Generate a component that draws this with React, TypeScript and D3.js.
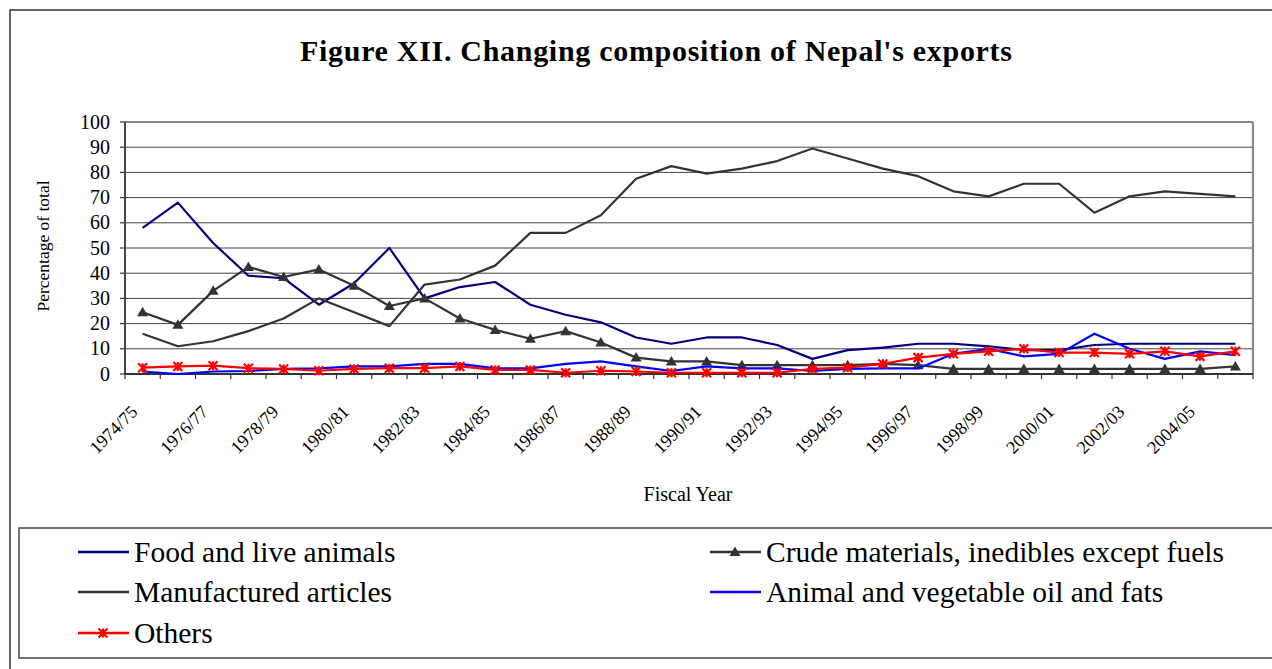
import * as d3 from 'd3'

const years = ['1974/75', '1975/76', '1976/77', '1977/78', '1978/79', '1979/80', '1980/81', '1981/82',
  '1982/83', '1983/84', '1984/85', '1985/86', '1986/87', '1987/88', '1988/89', '1989/90',
  '1990/91', '1991/92', '1992/93', '1993/94', '1994/95', '1995/96', '1996/97', '1997/98',
  '1998/99', '1999/00', '2000/01', '2001/02', '2002/03', '2003/04', '2004/05', '2005/06']

const food = [58, 68, 52, 39, 38, 27.5, 36, 50, 30, 34.5, 36.5, 27.5, 23.5, 20.5, 14.5, 12,
  14.5, 14.5, 11.5, 6, 9.5, 10.5, 12, 12, 11, 9.5, 9.5, 11.5, 12, 12, 12, 12]
const crude = [24.5, 19.5, 33, 42.5, 38.5, 41.5, 35, 27, 30, 22, 17.5, 14, 17, 12.5, 6.5, 5,
  5, 3.5, 3.5, 3.5, 3.5, 4, 3.5, 2, 2, 2, 2, 2, 2, 2, 2, 3]
const manufactured = [16, 11, 13, 17, 22, 30, 24.5, 19, 35.5, 37.5, 43, 56, 56, 63, 77.5, 82.5,
  79.5, 81.5, 84.5, 89.5, 85.5, 81.5, 78.5, 72.5, 70.5, 75.5, 75.5, 64, 70.5, 72.5, 71.5, 70.5]
const oils = [1, 0, 1, 1.2, 2, 2.2, 3, 3, 4, 4, 2.2, 2.2, 4, 5, 3, 1.2,
  3, 2.2, 2.2, 1.2, 2, 2.2, 2.2, 8, 10, 7, 8, 16, 10, 6, 9, 7.5]
const others = [2.5, 3, 3.3, 2.3, 2, 1.3, 2, 2.3, 2.3, 3, 1.6, 1.6, 0.5, 1.3, 1, 0.5,
  0.5, 0.5, 0.5, 2, 2.5, 4, 6.5, 8, 9, 10, 8.5, 8.5, 8, 9, 7, 9]

const yTicks = [0, 10, 20, 30, 40, 50, 60, 70, 80, 90, 100]

const series = [
  { name: 'Food and live animals', values: food, color: '#000080', marker: 'none' },
  { name: 'Manufactured articles', values: manufactured, color: '#333333', marker: 'none' },
  { name: 'Crude materials, inedibles except fuels', values: crude, color: '#333333', marker: 'triangle' },
  { name: 'Animal and vegetable oil and fats', values: oils, color: '#0000ff', marker: 'none' },
  { name: 'Others', values: others, color: '#ff0000', marker: 'star' },
]

// legend reads row by row: food | crude, manufactured | oils, others
const legendOrder = [0, 2, 1, 3, 4]

const serif = '"Liberation Serif", "Times New Roman", serif'

function Marker({ type, x, y, color }) {
  if (type === 'triangle') {
    return <path d={`M${x},${y - 5.5}L${x + 5.5},${y + 4}L${x - 5.5},${y + 4}Z`} fill={color} />
  }
  if (type === 'star') {
    const s = 4.5
    return (
      <path d={`M${x - s},${y - s}L${x + s},${y + s}M${x - s},${y + s}L${x + s},${y - s}M${x},${y - s}L${x},${y + s}`}
        stroke={color} strokeWidth={2.2} fill="none" />
    )
  }
  return null
}

export default function App() {
  const left = 125, right = 1253, top = 122, bottom = 374

  const x = d3.scalePoint().domain(years).range([left, right]).padding(0.5)
  const band = d3.scaleBand().domain(years).range([left, right])
  const y = d3.scaleLinear().domain([0, 100]).range([bottom, top])

  const line = d3.line<number>().x((_, i) => x(years[i])!).y(d => y(d))

  return (
    <svg width={1272} height={669} style={{ position: 'absolute', left: 0, top: 0, background: '#fff' }}
      fontFamily={serif}>
      <rect x={10} y={10} width={1300} height={700} fill="none" stroke="#333" strokeWidth={1.5} />

      <text x={656} y={61} textAnchor="middle" fontSize={30} fontWeight="bold" textLength={712}
        lengthAdjust="spacing">Figure XII. Changing composition of Nepal's exports</text>

      {yTicks.map(t => (
        <g key={t}>
          {t > 0 && t < 100 && <line x1={left} x2={right} y1={y(t)} y2={y(t)} stroke="#444" strokeWidth={1} />}
          <line x1={left - 5} x2={left} y1={y(t)} y2={y(t)} stroke="#333" strokeWidth={1.2} />
          <text x={110} y={y(t) + 6.5} textAnchor="end" fontSize={20}>{t}</text>
        </g>
      ))}

      <line x1={left} x2={right} y1={top} y2={top} stroke="#888" strokeWidth={2.2} />
      <line x1={right} x2={right} y1={top} y2={bottom} stroke="#888" strokeWidth={2.2} />
      <line x1={left} x2={left} y1={top} y2={bottom} stroke="#444" strokeWidth={2} />
      <line x1={left} x2={right} y1={bottom} y2={bottom} stroke="#333" strokeWidth={2} />

      {years.map(yr => (
        <line key={yr} x1={band(yr)! + band.step()} x2={band(yr)! + band.step()} y1={bottom} y2={bottom + 5}
          stroke="#333" strokeWidth={1.2} />
      ))}
      <line x1={left} x2={left} y1={bottom} y2={bottom + 5} stroke="#333" strokeWidth={1.2} />

      {years.map((yr, i) => i % 2 === 0 && (
        <text key={yr} transform={`translate(${x(yr)! - 4},${bottom + 39}) rotate(-45)`} textAnchor="end"
          fontSize={18}>{yr}</text>
      ))}

      <text transform={`translate(49,246) rotate(-90)`} textAnchor="middle" fontSize={17.5}>Percentage of total</text>
      <text x={688} y={501} textAnchor="middle" fontSize={20}>Fiscal Year</text>

      {series.map(s => (
        <g key={s.name}>
          <path d={line(s.values)!} fill="none" stroke={s.color} strokeWidth={2.2} strokeLinejoin="round" />
          {s.values.map((v, i) => (
            <Marker key={i} type={s.marker} x={x(years[i])!} y={y(v)} color={s.color} />
          ))}
        </g>
      ))}

      <rect x={19} y={528} width={1300} height={130} fill="#fff" stroke="#444" strokeWidth={1.5} />
      {legendOrder.map((si, k) => {
        const s = series[si]
        const col = k % 2
        const row = Math.floor(k / 2)
        const lx = col === 0 ? 78 : 710
        const ly = [552, 592, 633][row]
        return (
          <g key={s.name}>
            <line x1={lx} x2={lx + 51} y1={ly} y2={ly} stroke={s.color} strokeWidth={2.5} />
            <Marker type={s.marker} x={lx + 25} y={ly} color={s.color} />
            <text x={lx + 56} y={ly + 10} fontSize={29.5}>{s.name}</text>
          </g>
        )
      })}
    </svg>
  )
}
